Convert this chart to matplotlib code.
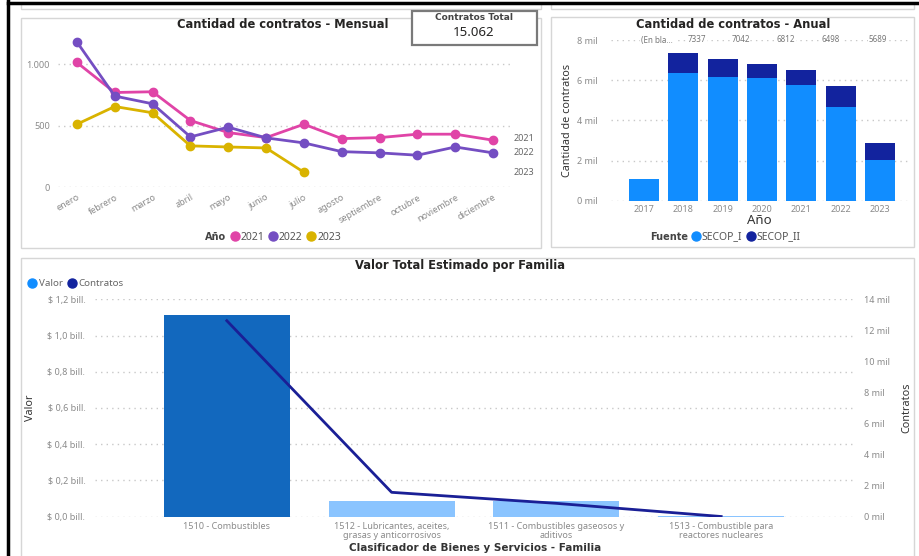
import matplotlib
matplotlib.use("Agg")
import matplotlib.pyplot as plt
from matplotlib.lines import Line2D
from matplotlib.patches import Rectangle

plt.rcParams['font.family'] = ['Noto Sans', 'DejaVu Sans']

# ---- data -------------------------------------------------------------
meses = ['enero', 'febrero', 'marzo', 'abril', 'mayo', 'junio', 'julio',
         'agosto', 'septiembre', 'octubre', 'noviembre', 'diciembre']
mensual_2021 = [1015, 771, 777, 543, 445, 404, 513, 396, 404, 432, 432, 383]
mensual_2022 = [1182, 742, 679, 410, 489, 402, 361, 290, 280, 261, 328, 280]
mensual_2023 = [513, 657, 606, 337, 328, 320, 122]

anios = ['2017', '2018', '2019', '2020', '2021', '2022', '2023']
secop_i = [1065, 6341, 6157, 6123, 5775, 4679, 2011]
secop_ii = [0, 996, 885, 689, 723, 1010, 846]
etiquetas_total = ['(En bla...', '7337', '7042', '6812', '6498', '5689']

familias = ['1510 - Combustibles',
            '1512 - Lubricantes, aceites,\ngrasas y anticorrosivos',
            '1511 - Combustibles gaseosos y\naditivos',
            '1513 - Combustible para\nreactores nucleares']
valor = [1.113e12, 0.088e12, 0.087e12, 0.004e12]
contratos = [12620, 1570, 860, 12]
contratos_total = '15.062'

# ---- layout helpers ---------------------------------------------------
W, H = 919, 556
fig = plt.figure(figsize=(W / 100, H / 100), dpi=100)


def box(l, t, r, b):
    return [l / W, 1 - b / H, (r - l) / W, (b - t) / H]


def fx(x):
    return x / W


def fy(y):
    return 1 - y / H


GRID = '#c8c8c8'
TICK = '#8a8a8a'
PINK, PURPLE, GOLD = '#E044A7', '#744EC2', '#D9B300'
BLUE, NAVY = '#118DFF', '#12239E'
BOLD = dict(family=['DejaVu Sans'], fontweight='bold')

# frame and panel borders
fig.add_artist(Line2D([fx(8), fx(8)], [fy(0), fy(556)], color='black', lw=2.5))
fig.add_artist(Line2D([fx(8), fx(919)], [fy(3), fy(3)], color='black', lw=2.5))
for (l, t, r, b) in [(21, 3, 541, 9), (551, 3, 914, 9),
                     (21, 18, 541, 248), (551, 17, 914, 247),
                     (21, 258, 914, 560)]:
    fig.add_artist(Rectangle((fx(l), fy(b)), fx(r - l), (b - t) / H,
                             fill=False, ec='#d6d6d6', lw=1))

# ---- monthly lines ----------------------------------------------------
ax1 = fig.add_axes(box(58, 33.6, 512, 187.3))
x = range(len(meses))
for serie, c in [(mensual_2021, PINK), (mensual_2022, PURPLE), (mensual_2023, GOLD)]:
    ax1.plot(range(len(serie)), serie, color=c, lw=2, marker='o', ms=6, zorder=3)
ax1.set_xlim(-0.5, 11.5)
ax1.set_ylim(0, 1250)
ax1.set_yticks([0, 500, 1000], ['0', '500', '1.000'])
ax1.set_xticks(list(x), meses, rotation=30, ha='right', rotation_mode='anchor')
ax1.tick_params(length=0, labelsize=6.5, labelcolor=TICK, pad=4)
ax1.tick_params(axis='y', pad=6)
for s in ax1.spines.values():
    s.set_visible(False)
ax1.grid(axis='y', ls=(0, (1, 3)), color=GRID, lw=1)
for lab, yv, c in [('2021', mensual_2021[-1] + 15, PINK),
                   ('2022', mensual_2022[-1] + 5, PURPLE),
                   ('2023', mensual_2023[-1], GOLD)]:
    ax1.text(11.55, yv, lab, fontsize=6.5, color='#666666', va='center',
             clip_on=False)
fig.text(fx(283), fy(25), 'Cantidad de contratos - Mensual', ha='center',
         va='center', fontsize=8.3, color='#252423', **BOLD)

# legend
fig.text(fx(205), fy(237), 'Año', fontsize=7, color='#444444', va='center',
         **BOLD)
h1 = [Line2D([], [], marker='o', ls='', color=c, ms=6.5) for c in (PINK, PURPLE, GOLD)]
fig.legend(h1, ['2021', '2022', '2023'], ncol=3, loc='center left',
           bbox_to_anchor=(fx(227), fy(237)), frameon=False, fontsize=7.5,
           handletextpad=-0.2, columnspacing=0.1, handlelength=1.5,
           labelcolor='#555555', borderaxespad=0, borderpad=0)

# card
fig.add_artist(Rectangle((fx(412), fy(45)), fx(125), 34 / H, fill=True,
                         fc='white', ec='#7a7a7a', lw=1.6))
fig.text(fx(474), fy(17), 'Contratos Total', ha='center', va='center',
         fontsize=6.5, color='#444444', **BOLD)
fig.text(fx(474), fy(33), contratos_total, ha='center', va='center',
         fontsize=9.5, color='#252423')

# ---- annual stacked bars ----------------------------------------------
ax2 = fig.add_axes(box(610.6, 40, 907.5, 200.7))
xb = range(len(anios))
ax2.bar(xb, secop_i, width=0.77, color=BLUE, zorder=2)
ax2.bar(xb, secop_ii, bottom=secop_i, width=0.77, color=NAVY, zorder=2)
ax2.set_xlim(-0.85, 6.7)
ax2.set_ylim(0, 8000)
ax2.set_yticks([0, 2000, 4000, 6000, 8000],
               ['0 mil', '2 mil', '4 mil', '6 mil', '8 mil'])
ax2.set_xticks(list(xb), anios)
ax2.tick_params(length=0, labelsize=6.5, labelcolor=TICK)
ax2.tick_params(axis='y', pad=9)
ax2.tick_params(axis='x', pad=3)
for s in ax2.spines.values():
    s.set_visible(False)
ax2.grid(axis='y', ls=(0, (1, 3)), color=GRID, lw=1, zorder=0)
for xp, lab in zip([0.33, 1.35, 2.45, 3.6, 4.75, 5.95], etiquetas_total):
    ax2.text(xp, 8000, lab, ha='center', va='center', fontsize=5.8,
             color='#777777', clip_on=False,
             bbox=dict(fc='white', ec='none', pad=0.5))
ax2.set_xlabel('Año', fontsize=9.5, color='#333333', labelpad=0)
ax2.set_ylabel('Cantidad de contratos', fontsize=7.8, color='#333333',
               labelpad=3)
fig.text(fx(733), fy(25), 'Cantidad de contratos - Anual', ha='center',
         va='center', fontsize=8.3, color='#252423', **BOLD)
fig.text(fx(650), fy(237), 'Fuente', fontsize=7, color='#444444',
         va='center', **BOLD)
h2 = [Line2D([], [], marker='o', ls='', color=c, ms=6.5) for c in (BLUE, NAVY)]
fig.legend(h2, ['SECOP_I', 'SECOP_II'], ncol=2, loc='center left',
           bbox_to_anchor=(fx(688), fy(237)), frameon=False, fontsize=7.5,
           handletextpad=-0.2, columnspacing=0.1, handlelength=1.5,
           labelcolor='#555555', borderaxespad=0, borderpad=0)

# ---- value by family --------------------------------------------------
ax3 = fig.add_axes(box(95, 299.3, 853, 516.7))
xf = range(len(familias))
ax3.bar(xf, valor, width=0.765,
        color=['#1268BE', '#8AC4FF', '#8AC4FF', '#8AC4FF'], zorder=2)
ax3.set_xlim(-0.8, 3.8)
ax3.set_ylim(0, 1.2e12)
yt = [0, 0.2e12, 0.4e12, 0.6e12, 0.8e12, 1.0e12, 1.2e12]
ax3.set_yticks(yt, ['$ 0,0 bill.', '$ 0,2 bill.', '$ 0,4 bill.', '$ 0,6 bill.',
                    '$ 0,8 bill.', '$ 1,0 bill.', '$ 1,2 bill.'])
ax3.set_xticks(list(xf), familias)
ax3.tick_params(length=0, labelsize=6.5, labelcolor=TICK)
ax3.tick_params(axis='y', pad=7)
ax3.tick_params(axis='x', pad=4)
for lab in ax3.get_xticklabels():
    lab.set_linespacing(0.95)
for s in ax3.spines.values():
    s.set_visible(False)
ax3.grid(axis='y', ls=(0, (1, 3)), color=GRID, lw=1, zorder=0)
ax3.set_ylabel('Valor', fontsize=7.8, color='#333333', labelpad=8)

ax4 = ax3.twinx()
ax4.plot(xf, contratos, color='#1A1F96', lw=2, zorder=3)
ax4.set_ylim(0, 14000)
ax4.set_yticks(range(0, 14001, 2000),
               [f'{v // 1000} mil' for v in range(0, 14001, 2000)])
ax4.tick_params(length=0, labelsize=6.5, labelcolor=TICK, pad=8)
for s in ax4.spines.values():
    s.set_visible(False)
ax4.set_ylabel('Contratos', fontsize=7.8, color='#333333', labelpad=8)

fig.text(fx(460), fy(266), 'Valor Total Estimado por Familia', ha='center',
         va='center', fontsize=8.3, color='#252423', **BOLD)
fig.text(fx(475), fy(548), 'Clasificador de Bienes y Servicios - Familia',
         ha='center', va='center', fontsize=7.5, color='#333333', **BOLD)
h3 = [Line2D([], [], marker='o', ls='', color=c, ms=6.5) for c in (BLUE, NAVY)]
fig.legend(h3, ['Valor', 'Contratos'], ncol=2, loc='center left',
           bbox_to_anchor=(fx(25), fy(284)), frameon=False, fontsize=7,
           handletextpad=-0.1, columnspacing=0.2, handlelength=1.5,
           labelcolor='#666666', borderaxespad=0, borderpad=0)

fig.savefig('out.png', dpi=100)
